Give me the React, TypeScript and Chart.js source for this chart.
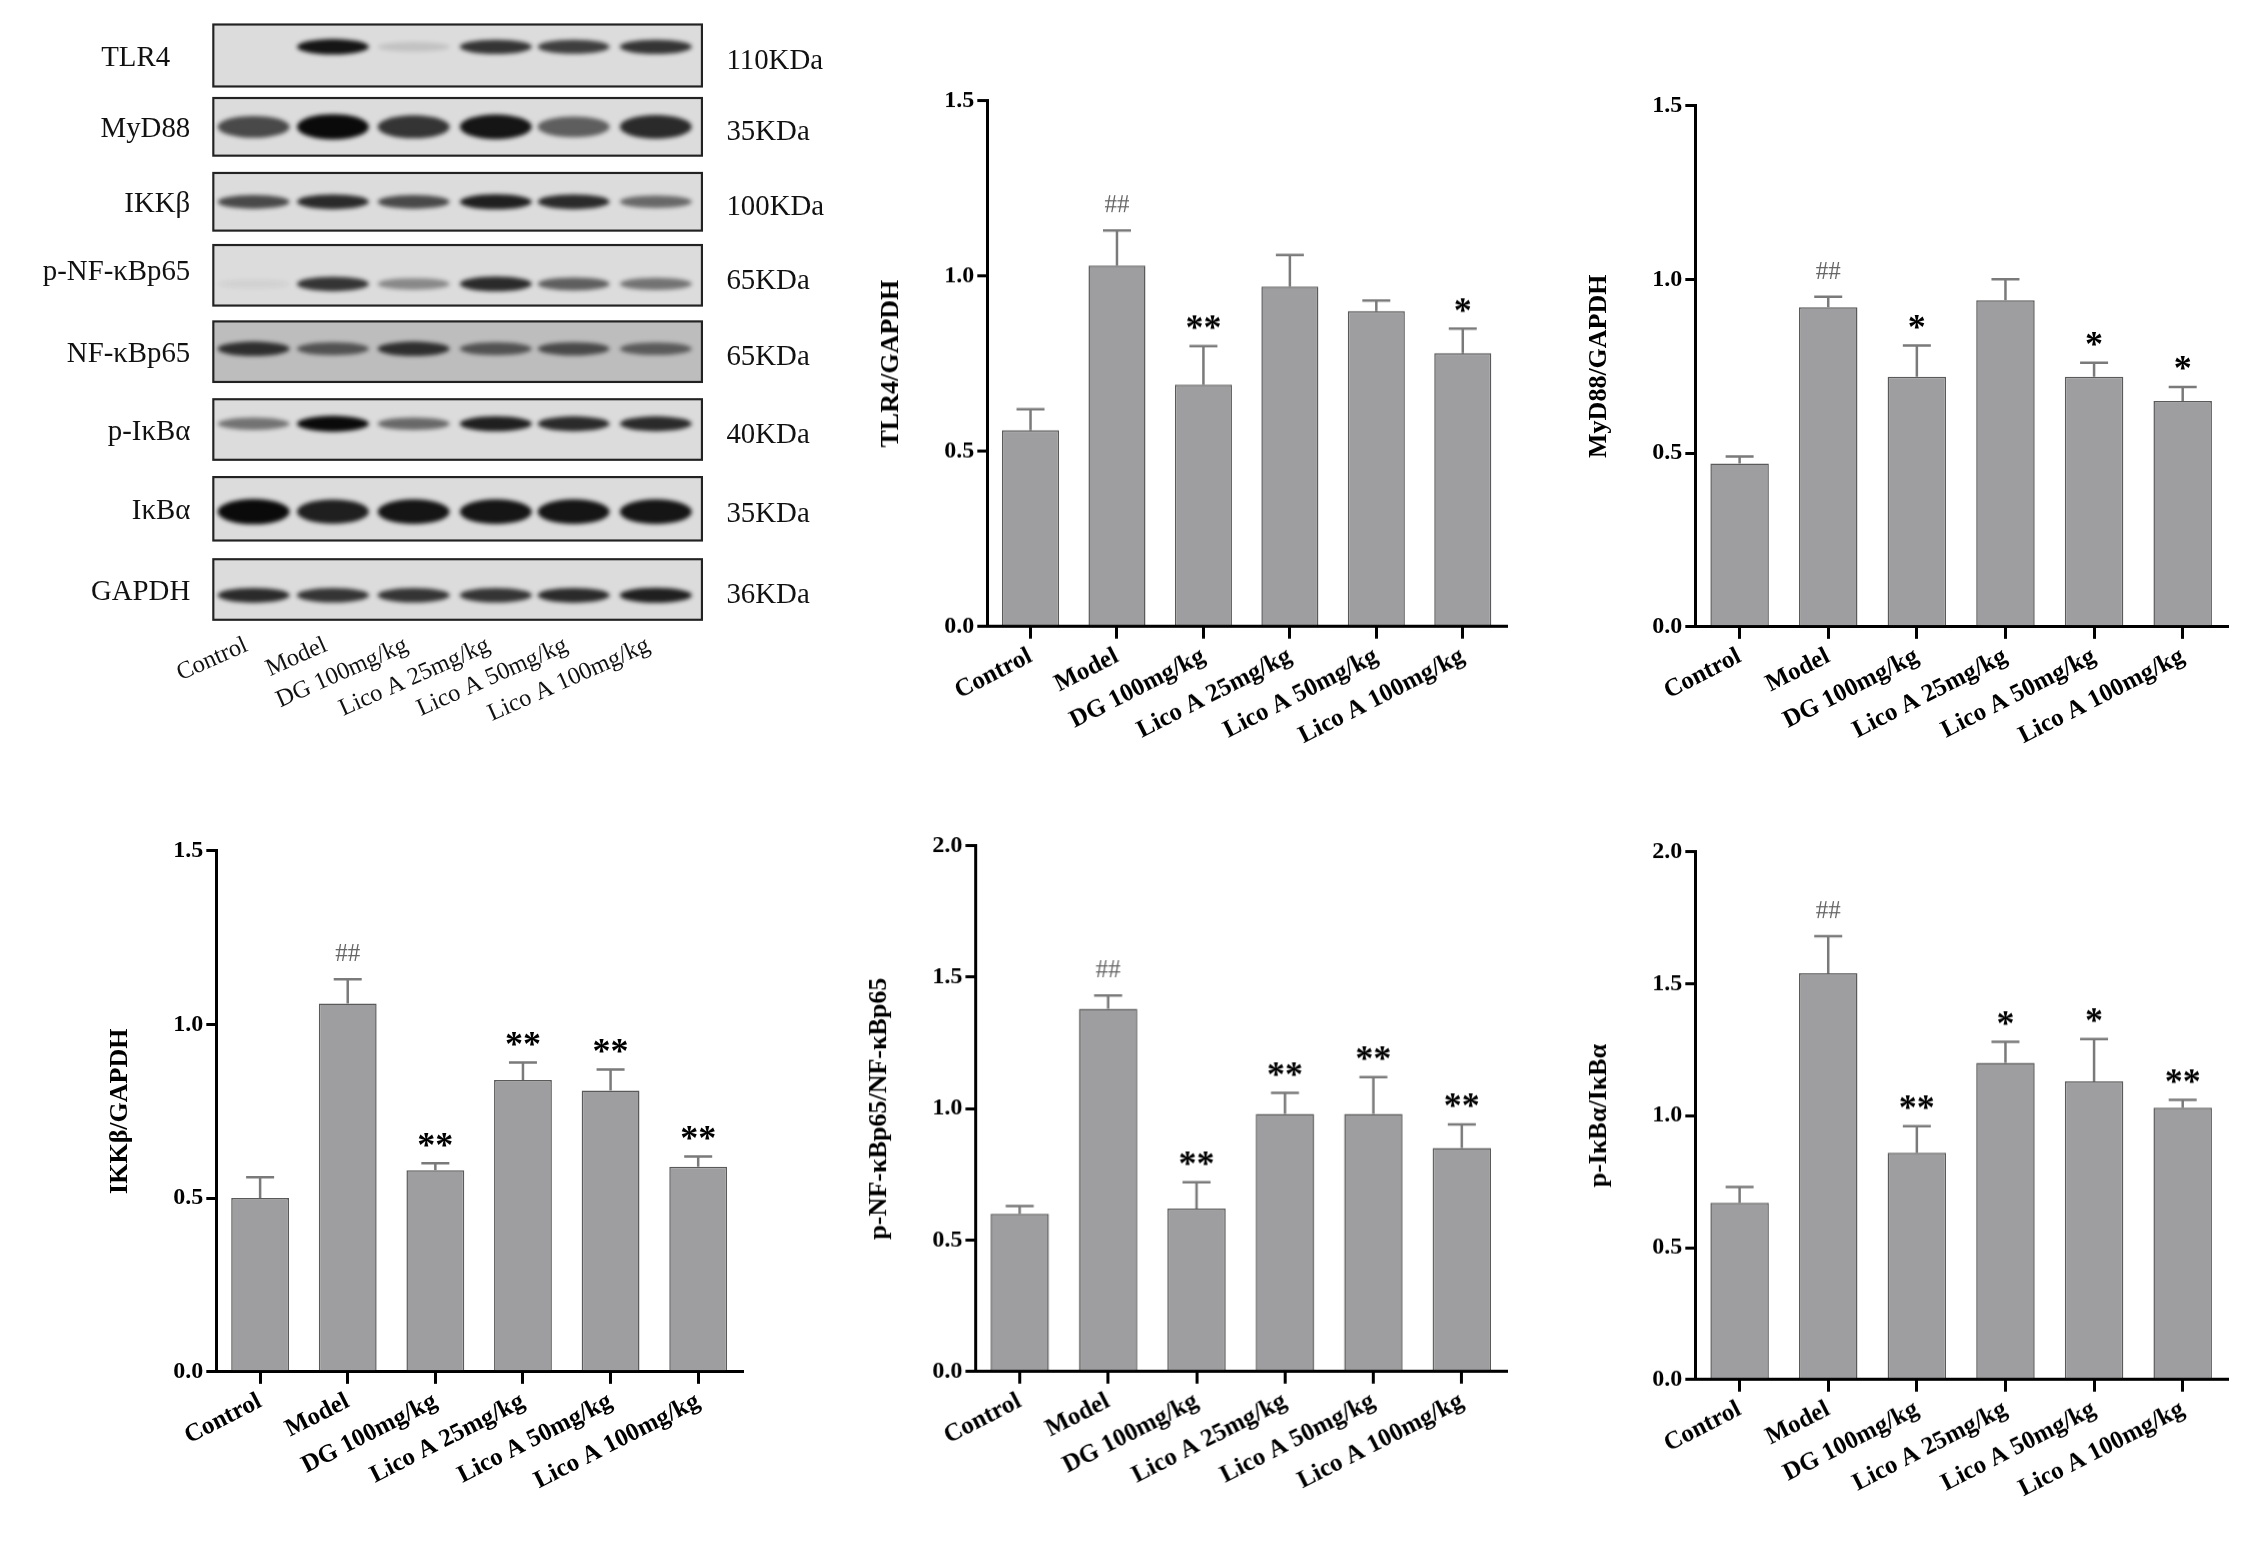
import React, { useEffect, useRef } from "react";
import { Chart, registerables } from "chart.js";
Chart.register(...registerables);

const S = 2260 / 1568;
const groups = ["Control", "Model", "DG 100mg/kg", "Lico A 25mg/kg", "Lico A 50mg/kg", "Lico A 100mg/kg"];

const tlr4Mean = [0.56, 1.03, 0.69, 0.97, 0.9, 0.78];
const tlr4Err = [0.06, 0.1, 0.11, 0.09, 0.03, 0.07];
const tlr4Sig = ["", "##", "**", "", "", "*"];
const myd88Mean = [0.47, 0.92, 0.72, 0.94, 0.72, 0.65];
const myd88Err = [0.02, 0.03, 0.09, 0.06, 0.04, 0.04];
const myd88Sig = ["", "##", "*", "", "*", "*"];
const ikkMean = [0.5, 1.06, 0.58, 0.84, 0.81, 0.59];
const ikkErr = [0.06, 0.07, 0.02, 0.05, 0.06, 0.03];
const ikkSig = ["", "##", "**", "**", "**", "**"];
const pnfMean = [0.6, 1.38, 0.62, 0.98, 0.98, 0.85];
const pnfErr = [0.03, 0.05, 0.1, 0.08, 0.14, 0.09];
const pnfSig = ["", "##", "**", "**", "**", "**"];
const pikbMean = [0.67, 1.54, 0.86, 1.2, 1.13, 1.03];
const pikbErr = [0.06, 0.14, 0.1, 0.08, 0.16, 0.03];
const pikbSig = ["", "##", "**", "*", "*", "**"];

const blotNames = ["TLR4", "MyD88", "IKKβ", "p-NF-κBp65", "NF-κBp65", "p-IκBα", "IκBα", "GAPDH"];
const blotKDa = ["110KDa", "35KDa", "100KDa", "65KDa", "65KDa", "40KDa", "35KDa", "36KDa"];
const blotIntensity = [
  [0, 0.95, 0.12, 0.8, 0.75, 0.8],
  [0.7, 1, 0.8, 0.95, 0.6, 0.85],
  [0.7, 0.85, 0.7, 0.9, 0.85, 0.55],
  [0.05, 0.8, 0.4, 0.85, 0.6, 0.5],
  [0.8, 0.6, 0.8, 0.6, 0.65, 0.55],
  [0.5, 1, 0.55, 0.9, 0.85, 0.85],
  [1, 0.9, 0.95, 0.95, 0.95, 0.95],
  [0.85, 0.8, 0.8, 0.8, 0.85, 0.9],
];

const FONT = "'Liberation Serif', 'DejaVu Serif', serif";

const rowBoxes = [[17, 60], [68, 108], [120, 160], [170, 212], [223, 265], [277, 319], [331, 375], [388, 430]];
const laneX = [176, 231, 287, 344, 398, 455];
const bandOffset = [-6, 0, 0, 6, -2, -4, 2, 4];

function Blot() {
  const ref = useRef<HTMLCanvasElement>(null);
  useEffect(() => {
    const c = ref.current!;
    const ctx = c.getContext("2d")!;
    ctx.clearRect(0, 0, c.width, c.height);
    ctx.save();
    ctx.scale(S, S);
    rowBoxes.forEach(([t, b], i) => {
      const bg = i === 4 ? "#bdbdbd" : "#dcdcdc";
      ctx.fillStyle = bg;
      ctx.fillRect(148, t, 339, b - t);
      ctx.save();
      ctx.beginPath();
      ctx.rect(148, t, 339, b - t);
      ctx.clip();
      ctx.filter = "blur(2px)";
      const cy = (t + b) / 2 + bandOffset[i];
      const h = i === 1 || i === 6 ? 8 : 5;
      blotIntensity[i].forEach((v, j) => {
        ctx.fillStyle = `rgba(10,10,10,${v})`;
        ctx.beginPath();
        ctx.ellipse(laneX[j], cy, 25, h * (0.6 + 0.5 * v), 0, 0, Math.PI * 2);
        ctx.fill();
      });
      ctx.restore();
      ctx.strokeStyle = "#222";
      ctx.lineWidth = 1.5;
      ctx.strokeRect(148, t, 339, b - t);
      ctx.fillStyle = "#111";
      ctx.font = `20px ${FONT}`;
      ctx.textBaseline = "middle";
      ctx.textAlign = "right";
      ctx.fillText(blotNames[i], i === 0 ? 118 : 132, (t + b) / 2 + (i === 3 ? -4 : 0) + 2);
      ctx.textAlign = "left";
      ctx.fillText(blotKDa[i], 504, (t + b) / 2 + 4);
    });
    ctx.font = `17px ${FONT}`;
    ctx.textAlign = "right";
    ctx.textBaseline = "middle";
    groups.forEach((g, j) => {
      ctx.save();
      ctx.translate(laneX[j] - 5, 447);
      ctx.rotate(-Math.PI / 7.5);
      ctx.fillText(g, 0, 0);
      ctx.restore();
    });
    ctx.restore();
  }, []);
  return (
    <canvas
      ref={ref}
      width={Math.round(620 * S)}
      height={Math.round(560 * S)}
      style={{ position: "absolute", left: -8, top: -8, width: 620 * S, height: 560 * S }}
    />
  );
}

type Spec = {
  axisX: number; yTop: number; yBot: number; xRight: number;
  max: number; title: string; mean: number[]; err: number[]; sig: string[];
};

function BarChart({ spec }: { spec: Spec }) {
  const ref = useRef<HTMLCanvasElement>(null);
  const yW = 80 * S;
  const padTop = 15 * S;
  const xH = 125 * S;
  const left = spec.axisX * S - yW - 8;
  const top = spec.yTop * S - padTop - 8;
  const width = (spec.xRight - spec.axisX) * S + yW + 10;
  const height = (spec.yBot - spec.yTop) * S + padTop + xH;
  useEffect(() => {
    const errPlugin = {
      id: "err",
      afterDatasetsDraw(chart: any) {
        const ctx = chart.ctx;
        const meta = chart.getDatasetMeta(0);
        const ys = chart.scales.y;
        meta.data.forEach((bar: any, i: number) => {
          const x = bar.x;
          const y0 = ys.getPixelForValue(spec.mean[i]);
          const y1 = ys.getPixelForValue(spec.mean[i] + spec.err[i]);
          ctx.save();
          ctx.strokeStyle = "#7a7a7a";
          ctx.lineWidth = 2.5;
          ctx.beginPath();
          ctx.moveTo(x, y0);
          ctx.lineTo(x, y1);
          ctx.moveTo(x - 14, y1);
          ctx.lineTo(x + 14, y1);
          ctx.stroke();
          const s = spec.sig[i];
          if (s) {
            ctx.textAlign = "center";
            ctx.textBaseline = "bottom";
            if (s === "##") {
              ctx.fillStyle = "#666";
              ctx.font = `25px ${FONT}`;
              ctx.fillText(s, x, y1 - 12);
            } else {
              ctx.fillStyle = "#000";
              ctx.font = `bold 36px ${FONT}`;
              ctx.fillText(s, x, y1 + 2);
            }
          }
          ctx.restore();
        });
      },
    };
    const chart = new Chart(ref.current!, {
      type: "bar",
      data: {
        labels: groups,
        datasets: [{
          data: spec.mean,
          backgroundColor: "#9e9ea0",
          borderColor: "#5a5a5a",
          borderWidth: 1.5,
          barPercentage: 0.66,
          categoryPercentage: 1,
        }],
      },
      options: {
        animation: false,
        responsive: false,
        maintainAspectRatio: false,
        layout: { padding: { top: padTop, right: 10 } },
        plugins: { legend: { display: false }, tooltip: { enabled: false } },
        scales: {
          x: {
            afterFit: (s: any) => { s.height = xH; },
            grid: { display: true, drawOnChartArea: false, drawTicks: true, tickLength: 12, color: "#000", lineWidth: 3, offset: false },
            border: { display: true, color: "#000", width: 3 },
            ticks: { color: "#000", font: { family: FONT, size: 25, weight: "bold" }, minRotation: 27, maxRotation: 27, autoSkip: false },
          },
          y: {
            min: 0, max: spec.max,
            afterFit: (s: any) => { s.width = yW; },
            grid: { display: true, drawOnChartArea: false, drawTicks: true, tickLength: 10, color: "#000", lineWidth: 3 },
            border: { display: true, color: "#000", width: 3 },
            ticks: { stepSize: 0.5, color: "#000", font: { family: FONT, size: 24, weight: "bold" }, callback: (v: any) => Number(v).toFixed(1) },
            title: { display: true, text: spec.title, color: "#000", font: { family: FONT, size: 26, weight: "bold" } },
          },
        },
      },
      plugins: [errPlugin],
    });
    return () => chart.destroy();
  }, []);
  return (
    <canvas ref={ref} width={width} height={height}
      style={{ position: "absolute", left, top, width, height }} />
  );
}

const specs: Spec[] = [
  { axisX: 685, yTop: 70, yBot: 435, xRight: 1045, max: 1.5, title: "TLR4/GAPDH", mean: tlr4Mean, err: tlr4Err, sig: tlr4Sig },
  { axisX: 1176, yTop: 73, yBot: 435, xRight: 1545, max: 1.5, title: "MyD88/GAPDH", mean: myd88Mean, err: myd88Err, sig: myd88Sig },
  { axisX: 150, yTop: 590, yBot: 952, xRight: 515, max: 1.5, title: "IKKβ/GAPDH", mean: ikkMean, err: ikkErr, sig: ikkSig },
  { axisX: 677, yTop: 587, yBot: 952, xRight: 1045, max: 2.0, title: "p-NF-κBp65/NF-κBp65", mean: pnfMean, err: pnfErr, sig: pnfSig },
  { axisX: 1176, yTop: 591, yBot: 957, xRight: 1545, max: 2.0, title: "p-IκBα/IκBα", mean: pikbMean, err: pikbErr, sig: pikbSig },
];

export default function App() {
  return (
    <div style={{ position: "relative", width: 2244, height: 1543, background: "#fff" }}>
      <Blot />
      {specs.map((s, i) => <BarChart key={i} spec={s} />)}
    </div>
  );
}
